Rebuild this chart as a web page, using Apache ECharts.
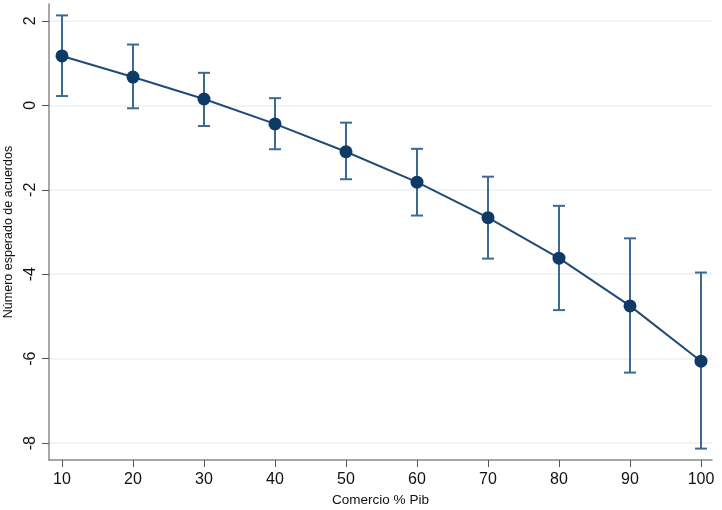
<!DOCTYPE html>
<html>
<head>
<meta charset="utf-8">
<script src="https://cdn.jsdelivr.net/npm/echarts@6/dist/echarts.min.js"></script>
<style>html,body{margin:0;padding:0;background:#fff}#c{width:722px;height:510px}</style>
</head>
<body>
<div id="c"></div>
<script>
const xValues = [10, 20, 30, 40, 50, 60, 70, 80, 90, 100];
const estimates = [1.17, 0.67, 0.15, -0.44, -1.10, -1.82, -2.66, -3.62, -4.75, -6.06];
const upperCI = [2.13, 1.44, 0.77, 0.17, -0.41, -1.03, -1.69, -2.38, -3.15, -3.96];
const lowerCI = [0.22, -0.07, -0.49, -1.04, -1.75, -2.61, -3.63, -4.85, -6.33, -8.13];
const xTicks = [10, 20, 30, 40, 50, 60, 70, 80, 90, 100];
const yTicks = [-8, -6, -4, -2, 0, 2];

const chart = echarts.init(document.getElementById('c'), null, {renderer: 'canvas'});
const fontFam = 'Liberation Sans, Arial, Helvetica, sans-serif';
const ciData = xValues.map((x, i) => [x, lowerCI[i], upperCI[i]]);

chart.setOption({
  animation: false,
  backgroundColor: '#ffffff',
  grid: {left: 49, right: 10, top: 4, bottom: 50, containLabel: false, outerBoundsMode: 'none'},
  xAxis: {
    type: 'value', min: 8.17, max: 101.55,
    name: 'Comercio % Pib', nameLocation: 'middle', nameGap: 33,
    nameTextStyle: {fontSize: 13.5, color: '#111', fontFamily: fontFam},
    axisLine: {show: true, onZero: false, lineStyle: {color: '#8a8a8a', width: 1.5}},
    axisTick: {show: true, length: 7, customValues: xTicks, lineStyle: {color: '#555', width: 1}},
    axisLabel: {customValues: xTicks, fontSize: 16, color: '#111', margin: 12, fontFamily: fontFam},
    splitLine: {show: false}
  },
  yAxis: {
    type: 'value', min: -8.4, max: 2.4,
    name: 'Número esperado de acuerdos', nameLocation: 'middle', nameGap: 30,
    nameTextStyle: {fontSize: 12.5, color: '#111', fontFamily: fontFam},
    axisLine: {show: true, onZero: false, lineStyle: {color: '#8a8a8a', width: 1.5}},
    axisTick: {show: true, length: 7, customValues: yTicks, lineStyle: {color: '#555', width: 1}},
    axisLabel: {customValues: yTicks, fontSize: 16, color: '#111', rotate: 90, margin: 10, fontFamily: fontFam},
    splitLine: {show: true, lineStyle: {color: '#eaf2f4', width: 1.5}}
  },
  series: [
    {
      type: 'custom',
      data: ciData,
      z: 2,
      renderItem: function (params, api) {
        const x = api.value(0);
        const lo = api.coord([x, api.value(1)]);
        const hi = api.coord([x, api.value(2)]);
        const cap = 6;
        const style = {stroke: '#3d6a94', lineWidth: 2};
        return {
          type: 'group',
          children: [
            {type: 'line', shape: {x1: lo[0], y1: lo[1], x2: hi[0], y2: hi[1]}, style: style},
            {type: 'line', shape: {x1: lo[0] - cap, y1: lo[1], x2: lo[0] + cap, y2: lo[1]}, style: style},
            {type: 'line', shape: {x1: hi[0] - cap, y1: hi[1], x2: hi[0] + cap, y2: hi[1]}, style: style}
          ]
        };
      }
    },
    {
      type: 'line',
      data: xValues.map((x, i) => [x, estimates[i]]),
      z: 3,
      symbol: 'circle', symbolSize: 13,
      lineStyle: {color: '#1f4b75', width: 2},
      itemStyle: {color: '#0f3a66'}
    }
  ]
});
</script>
</body>
</html>
